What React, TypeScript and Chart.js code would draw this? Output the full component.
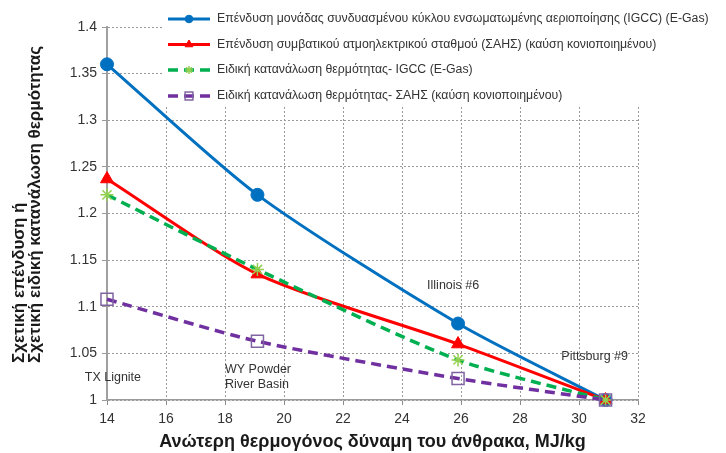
import React, { useEffect, useRef } from "react";
import { Chart, registerables } from "chart.js";
import { drawPoint } from "chart.js/helpers";

Chart.register(...registerables);

// ---- data ----
const coalHeatingValue = [14, 19.1, 25.9, 30.9];
const igccInvestment = [1.36, 1.22, 1.082, 1.0];
const pcInvestment = [1.237, 1.135, 1.06, 1.0];
const igccHeatRate = [1.22, 1.14, 1.043, 1.0];
const pcHeatRate = [1.108, 1.063, 1.023, 1.0];

const seriesLabels = [
  "Επένδυση μονάδας συνδυασμένου κύκλου ενσωματωμένης αεριοποίησης (IGCC) (E-Gas)",
  "Επένδυση συμβατικού ατμοηλεκτρικού σταθμού (ΣΑΗΣ) (καύση κονιοποιημένου)",
  "Ειδική κατανάλωση θερμότητας- IGCC (E-Gas)",
  "Ειδική κατανάλωση θερμότητας- ΣΑΗΣ (καύση κονιοποιημένου)",
];

const xTicks = [14, 16, 18, 20, 22, 24, 26, 28, 30, 32];
const yTicks = [1, 1.05, 1.1, 1.15, 1.2, 1.25, 1.3, 1.35, 1.4];

const coalLabels = [
  { lines: ["TX Lignite"], x: 14.2, y: 1.0236, align: "center" },
  { lines: ["WY Powder", "River Basin"], x: 18.0, y: 1.033, align: "left" },
  { lines: ["Illinois #6"], x: 24.85, y: 1.123, align: "left" },
  { lines: ["Pittsburg #9"], x: 29.4, y: 1.047, align: "left" },
];

const xTitle = "Ανώτερη θερμογόνος δύναμη του άνθρακα, MJ/kg";
const yTitleLines = ["Σχετική επένδυση ή", "Σχετική ειδική κατανάλωση θερμότητας"];

const FONT = "'Liberation Sans', Arial, sans-serif";

const toXY = (ys: number[]) => coalHeatingValue.map((x, i) => ({ x, y: ys[i] }));

export default function App() {
  const ref = useRef<HTMLCanvasElement>(null);

  useEffect(() => {
    document.body.style.margin = "0";
    const canvas = ref.current;
    if (!canvas) return;

    const datasetsStyle = [
      { color: "#0070C0", dash: [], width: 3, pointStyle: "circle", radius: 6.5, bg: "#0070C0", border: "#0070C0", bw: 1, legendR: 3.8 },
      { color: "#FF0000", dash: [], width: 3, pointStyle: "triangle", radius: 7.5, bg: "#FF0000", border: "#FF0000", bw: 1, legendR: 4.5 },
      { color: "#00B050", dash: [10, 6], width: 3.5, pointStyle: "star", radius: 6.5, bg: "#92D050", border: "#92D050", bw: 1.5, legendR: 4 },
      { color: "#7030A0", dash: [10, 6], width: 3.5, pointStyle: "rect", radius: 8.5, bg: "rgba(255,255,255,0)", border: "#8064A2", bw: 1.5, legendR: 5.5 },
    ];
    const seriesData = [igccInvestment, pcInvestment, igccHeatRate, pcHeatRate];

    const legendBox = {
      id: "legendBox",
      beforeDatasetsDraw(chart: any) {
        const ctx = chart.ctx;
        ctx.save();
        ctx.fillStyle = "#ffffff";
        ctx.fillRect(162, 0, 726 - 162, 106);
        ctx.restore();
      },
      afterDraw(chart: any) {
        const ctx = chart.ctx;
        ctx.save();
        const rows = [19, 44.5, 70, 96];
        datasetsStyle.forEach((s, i) => {
          const y = rows[i];
          ctx.strokeStyle = s.color;
          ctx.lineWidth = s.width;
          ctx.setLineDash(s.dash.length ? [10, 6] : []);
          ctx.beginPath();
          ctx.moveTo(168, y);
          ctx.lineTo(210, y);
          ctx.stroke();
          ctx.setLineDash([]);
          ctx.fillStyle = s.bg;
          ctx.strokeStyle = s.border;
          ctx.lineWidth = s.bw;
          drawPoint(ctx, { pointStyle: s.pointStyle as any, radius: s.legendR, rotation: 0, borderWidth: s.bw }, 189, y);
          ctx.fillStyle = "#333333";
          ctx.font = `12.3px ${FONT}`;
          ctx.textBaseline = "middle";
          ctx.textAlign = "left";
          ctx.fillText(seriesLabels[i], 217, y);
        });

        // coal annotations (data coordinates through the scales)
        const xs = chart.scales.x;
        const ys = chart.scales.y;
        ctx.fillStyle = "#333333";
        ctx.font = `12.5px ${FONT}`;
        ctx.textBaseline = "middle";
        coalLabels.forEach((l) => {
          ctx.textAlign = l.align;
          const px = xs.getPixelForValue(l.x);
          const py = ys.getPixelForValue(l.y);
          l.lines.forEach((t, k) => ctx.fillText(t, px, py + k * 15));
        });

        // y axis title
        ctx.fillStyle = "#1a1a1a";
        ctx.font = `bold 17px ${FONT}`;
        ctx.textAlign = "left";
        ctx.textBaseline = "middle";
        const bottomY = 363;
        [19.5, 35.5].forEach((cx, k) => {
          ctx.save();
          ctx.translate(cx, bottomY);
          ctx.rotate(-Math.PI / 2);
          ctx.fillText(yTitleLines[k], 0, 0);
          ctx.restore();
        });
        ctx.restore();
      },
    };

    const chart = new Chart(canvas, {
      type: "line",
      data: {
        datasets: seriesData.map((d, i) => {
          const s = datasetsStyle[i];
          return {
            label: seriesLabels[i],
            data: toXY(d),
            order: seriesData.length - 1 - i,
            borderColor: s.color,
            borderWidth: s.width,
            borderDash: s.dash,
            tension: 0.25,
            pointStyle: s.pointStyle as any,
            pointRadius: s.radius,
            pointBackgroundColor: s.bg,
            pointBorderColor: s.border,
            pointBorderWidth: s.bw,
            fill: false,
            clip: false,
          };
        }),
      },
      options: {
        animation: false,
        responsive: false,
        layout: { padding: { left: 0, right: 88, top: 27, bottom: 0 } },
        plugins: {
          legend: { display: false },
          tooltip: { enabled: false },
        },
        scales: {
          x: {
            type: "linear",
            min: 14,
            max: 32,
            afterBuildTicks: (axis: any) => {
              axis.ticks = xTicks.map((v) => ({ value: v }));
            },
            afterFit: (axis: any) => {
              axis.height = 53;
            },
            grid: {
              color: "#9A9A9A",
              lineWidth: 1,
              tickLength: 5,
              tickColor: "#8C8C8C",
              tickBorderDash: [],
            },
            border: { display: true, color: "#999999", width: 1.5, dash: [2, 2] },
            ticks: {
              color: "#333333",
              font: { family: FONT, size: 14 },
              padding: 6,
              maxRotation: 0,
              callback: (v: any) => String(v),
            },
            title: {
              display: true,
              text: xTitle,
              color: "#1a1a1a",
              font: { family: FONT, size: 18, weight: "bold" },
              padding: { top: 0, bottom: 0 },
            },
          },
          y: {
            type: "linear",
            min: 1,
            max: 1.4,
            afterBuildTicks: (axis: any) => {
              axis.ticks = yTicks.map((v) => ({ value: v }));
            },
            afterFit: (axis: any) => {
              axis.width = 107;
            },
            grid: {
              color: "#9A9A9A",
              lineWidth: 1,
              tickLength: 5,
            },
            border: { display: true, color: "#A0A0A0", width: 2, dash: [2, 2] },
            ticks: {
              color: "#333333",
              font: { family: FONT, size: 14 },
              padding: 5,
              callback: (v: any) => String(Number(Number(v).toFixed(2))),
            },
          },
        },
      },
      plugins: [legendBox as any],
    });

    return () => chart.destroy();
  }, []);

  return (
    <div style={{ width: 726, height: 453, position: "relative" }}>
      <canvas ref={ref} width={726} height={453} />
    </div>
  );
}
